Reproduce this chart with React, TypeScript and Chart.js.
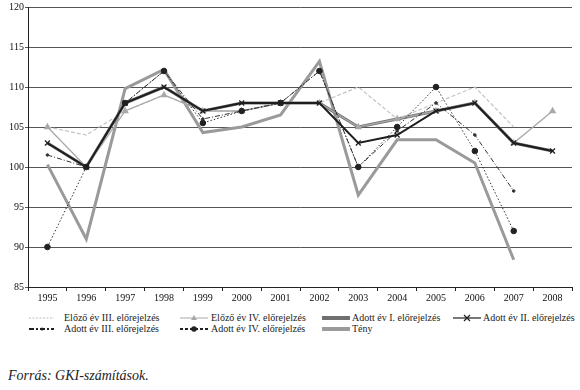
import React, { useEffect, useRef } from "react";
import { Chart, registerables } from "chart.js";

Chart.register(...registerables);

const years = ["1995","1996","1997","1998","1999","2000","2001","2002","2003","2004","2005","2006","2007","2008"];
const elozoIII = [105, 104, 107, 109, 107, 107, 108, 108, 110, 106, 108, 110, 105, null];
const elozoIV = [105, 100, 107, 109, 107, 107, 108, 108, 105, 106, 107, 108, 103, 107];
const adottI = [103, 100, 108, 110, 107, 108, 108, 108, 105, 106, 107, 108, 103, 102];
const adottII = [103, 100, 108, 110, 107, 108, 108, 108, 103, 104, 107, 108, 103, 102];
const adottIII = [101.5, 100, 108, 112, 106, 107, 108, 112, 100, 104.5, 108, 104, 97, null];
const adottIV = [90, 100, 108, 112, 105.5, 107, 108, 112, 100, 105, 110, 102, 92, null];
const teny = [100.3, 91, 109.8, 112.2, 104.3, 105, 106.5, 113.2, 96.5, 103.4, 103.4, 100.5, 88.4, null];
const yTicks = [85, 90, 95, 100, 105, 110, 115, 120];

const FONT = "Liberation Serif, Tinos, Times New Roman, DejaVu Serif, serif";

export default function App() {
  const ref = useRef<HTMLCanvasElement | null>(null);
  useEffect(() => {
    if (!ref.current) return;
    const chart = new Chart(ref.current, {
      type: "line",
      data: {
        labels: years,
        datasets: [
          { label: "Tény", data: teny, borderColor: "#9a9a9a", borderWidth: 3, pointRadius: 0, order: 10, tension: 0 },
          { label: "Adott év I. előrejelzés", data: adottI, borderColor: "#707070", borderWidth: 3, pointRadius: 0, order: 9 },
          { label: "Előző év III. előrejelzés", data: elozoIII, borderColor: "#c4c4c4", borderWidth: 1.2, borderDash: [4, 2], pointRadius: 0, order: 8 },
          { label: "Előző év IV. előrejelzés", data: elozoIV, borderColor: "#a8a8a8", borderWidth: 1.3, pointStyle: "triangle", pointRadius: 3, pointBackgroundColor: "#a8a8a8", pointBorderColor: "#a8a8a8", order: 7 },
          { label: "Adott év III. előrejelzés", data: adottIII, borderColor: "#333", borderWidth: 1, borderDash: [5, 2, 1, 2], pointStyle: "circle", pointRadius: 1.3, pointBackgroundColor: "#333", pointBorderColor: "#333", order: 5 },
          { label: "Adott év IV. előrejelzés", data: adottIV, borderColor: "#333", borderWidth: 1, borderDash: [1.5, 2], pointStyle: "circle", pointRadius: 2.8, pointBackgroundColor: "#222", pointBorderColor: "#222", order: 4 },
          { label: "Adott év II. előrejelzés", data: adottII, borderColor: "#1e1e1e", borderWidth: 2, pointStyle: "crossRot", pointRadius: 3.5, pointBorderColor: "#1e1e1e", pointBorderWidth: 1.2, order: 3 },
        ],
      },
      options: {
        animation: false,
        responsive: false,
        maintainAspectRatio: false,
        layout: { padding: { top: 5, right: 8, left: 0, bottom: 0 } },
        plugins: { legend: { display: false }, tooltip: { enabled: false } },
        scales: {
          x: {
            offset: true,
            grid: { display: true, drawOnChartArea: false, drawTicks: true, tickLength: 4, color: "#222", offset: true },
            border: { display: true, color: "#222", width: 1 },
            ticks: { color: "#111", font: { family: FONT, size: 10 }, padding: 1, maxRotation: 0, autoSkip: false },
            afterFit: (s: any) => { s.height = 16; },
          },
          y: {
            min: 85,
            max: 120,
            afterBuildTicks: (s: any) => { s.ticks = yTicks.map((v) => ({ value: v })); },
            grid: { color: "#555", lineWidth: 1, drawTicks: true, tickLength: 3 },
            border: { display: true, color: "#222", width: 1 },
            ticks: { color: "#111", font: { family: FONT, size: 10 }, padding: 1 },
            afterFit: (s: any) => { s.width = 28; },
          },
        },
      },
    });
    return () => chart.destroy();
  }, []);

  const legendText: React.CSSProperties = { position: "absolute", fontFamily: FONT, fontSize: 10, color: "#222", whiteSpace: "nowrap", lineHeight: "11px" };
  const sample = (x: number, y: number, content: React.ReactNode) => (
    <svg style={{ position: "absolute", left: x, top: y - 5 }} width={32} height={10}>{content}</svg>
  );

  return (
    <div style={{ position: "fixed", left: 0, top: 0, width: 580, height: 390, background: "#fff" }}>
      <canvas ref={ref} width={580} height={303} style={{ position: "absolute", left: 0, top: 0 }} />
      {sample(29, 318, <line x1={0} y1={5} x2={25} y2={5} stroke="#bdbdbd" strokeWidth={1} strokeDasharray="2,1.5" />)}
      <div style={{ ...legendText, left: 64, top: 312 }}>Előző év III. előrejelzés</div>
      {sample(29, 329, <g><line x1={0} y1={5} x2={25} y2={5} stroke="#222" strokeWidth={2} strokeDasharray="5,2,2,2" /><circle cx={13} cy={5} r={1.5} fill="#222" /></g>)}
      <div style={{ ...legendText, left: 64, top: 323 }}>Adott év III. előrejelzés</div>

      {sample(180, 318, <g><line x1={0} y1={5} x2={28} y2={5} stroke="#a8a8a8" strokeWidth={1} /><polygon points="14,2 17,7 11,7" fill="#a8a8a8" /></g>)}
      <div style={{ ...legendText, left: 211, top: 312 }}>Előző év IV. előrejelzés</div>
      {sample(180, 329, <g><line x1={0} y1={5} x2={28} y2={5} stroke="#222" strokeWidth={2} strokeDasharray="3,2" /><circle cx={14} cy={5} r={2.8} fill="#222" /></g>)}
      <div style={{ ...legendText, left: 211, top: 323 }}>Adott év IV. előrejelzés</div>

      {sample(322, 318, <line x1={0} y1={5} x2={28} y2={5} stroke="#707070" strokeWidth={4} />)}
      <div style={{ ...legendText, left: 352, top: 312 }}>Adott év I. előrejelzés</div>
      {sample(322, 329, <line x1={0} y1={5} x2={28} y2={5} stroke="#9a9a9a" strokeWidth={4} />)}
      <div style={{ ...legendText, left: 352, top: 323 }}>Tény</div>

      {sample(453, 318, <g><line x1={0} y1={5} x2={28} y2={5} stroke="#1e1e1e" strokeWidth={1.2} /><path d="M11,2 L17,8 M17,2 L11,8" stroke="#1e1e1e" strokeWidth={1.2} /></g>)}
      <div style={{ ...legendText, left: 483, top: 312 }}>Adott év II. előrejelzés</div>

      <div style={{ position: "absolute", left: 8, top: 368, fontFamily: FONT, fontStyle: "italic", fontSize: 14, color: "#222", whiteSpace: "nowrap" }}>Forrás: GKI-számítások.</div>
    </div>
  );
}
